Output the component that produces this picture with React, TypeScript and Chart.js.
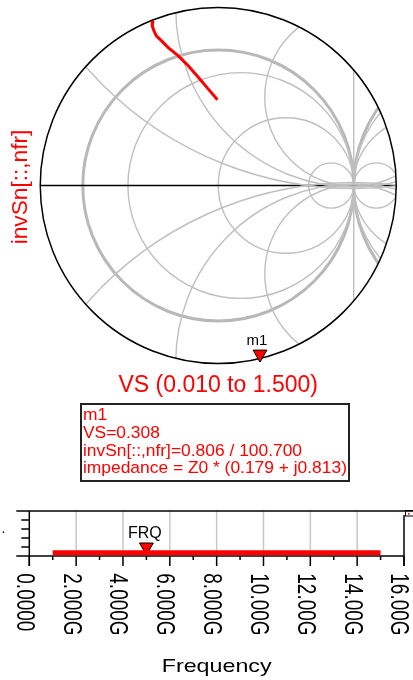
import React, { useEffect, useRef } from 'react';
import { Chart, registerables } from 'chart.js';

Chart.register(...registerables);

const FONT = '"Liberation Sans", Arial, Helvetica, sans-serif';

// ---------- Smith chart data (reflection coefficient, re / im) ----------
const traceRe = [-0.482, -0.487, -0.474, -0.457, -0.42, -0.371, -0.297, -0.223, -0.149, -0.076, -0.006];
const traceIm = [1.225, 1.188, 1.151, 1.114, 1.078, 1.028, 0.967, 0.893, 0.807, 0.721, 0.638];
const markerRe = [0.308];
const markerIm = [-1.255];
const smithRadius = 1.3137; // displayed |Gamma| range
const resistanceValues = [0, 0.2, 1, 5];
const reactanceValues = [0.5, 1, 2];
const smithXTitle = 'VS (0.010 to 1.500)';
const smithYTitle = 'invSn[::,nfr]';
const markerName = 'm1';
const readoutLines = ['m1', 'VS=0.308', 'invSn[::,nfr]=0.806 / 100.700', 'impedance = Z0 * (0.179 + j0.813)'];

// ---------- Frequency strip ----------
const sweepFreqGHz = [1, 15];
const sweepLevel = [0.07, 0.07];
const frqMarkerGHz = [5];
const frqMarkerLevel = [0.2];
const frqMarkerName = 'FRQ';
const freqTickValues = [0, 2, 4, 6, 8, 10, 12, 14, 16];
const freqTickLabels = ['0.0000', '2.000G', '4.000G', '6.000G', '8.000G', '10.00G', '12.00G', '14.00G', '16.00G'];
const freqMinorValues = [1, 3, 5, 7, 9, 11, 13, 15];
const levelTickValues = [0, 0.2, 0.4, 0.6, 0.8, 1];
const freqTitle = 'Frequency';

function drawText(ctx: CanvasRenderingContext2D, text: string, x: number, y: number, size: number, color: string, o: any = {}) {
  ctx.save();
  ctx.translate(x, y);
  if (o.rotate) ctx.rotate(o.rotate);
  ctx.scale(o.sx ?? 1, o.sy ?? 1);
  ctx.font = `${size}px ${FONT}`;
  ctx.fillStyle = color;
  ctx.textAlign = o.align ?? 'left';
  ctx.textBaseline = 'alphabetic';
  ctx.fillText(text, 0, 0);
  ctx.restore();
}

const GRAY = '#bfbfbf';

const smithPlugin = {
  id: 'smithGrid',
  beforeDatasetsDraw(chart: any) {
    const { ctx } = chart;
    const xs = chart.scales.x, ys = chart.scales.y;
    const px = (v: number) => xs.getPixelForValue(v);
    const py = (v: number) => ys.getPixelForValue(v);
    const u = px(1) - px(0);
    const cx = px(0), cy = py(0), R = smithRadius * u;
    const circle = (gx: number, gy: number, rad: number, color: string, w: number) => {
      ctx.beginPath();
      ctx.arc(px(gx), py(gy), rad * u, 0, Math.PI * 2);
      ctx.strokeStyle = color;
      ctx.lineWidth = w;
      ctx.stroke();
    };
    ctx.save();
    ctx.beginPath();
    ctx.arc(cx, cy, R, 0, Math.PI * 2);
    ctx.clip();
    resistanceValues.forEach((r) => {
      const w = r === 0 ? 3 : 1.4;
      const col = r === 0 ? '#b8b8b8' : GRAY;
      circle(r / (1 + r), 0, 1 / (1 + r), col, w);
      circle((r + 2) / (r + 1), 0, 1 / (1 + r), col, w);
    });
    ctx.beginPath();
    ctx.moveTo(px(1), py(smithRadius));
    ctx.lineTo(px(1), py(-smithRadius));
    ctx.strokeStyle = GRAY;
    ctx.lineWidth = 1.4;
    ctx.stroke();
    // real axis
    ctx.beginPath();
    ctx.moveTo(px(-smithRadius), cy);
    ctx.lineTo(px(smithRadius), cy);
    ctx.strokeStyle = '#000';
    ctx.lineWidth = 1.5;
    ctx.stroke();
    reactanceValues.forEach((xv) => {
      const k = smithRadius / xv;
      circle(1, k, k, GRAY, 1.4);
      circle(1, -k, k, GRAY, 1.4);
    });
    ctx.restore();
    ctx.beginPath();
    ctx.arc(cx, cy, R, 0, Math.PI * 2);
    ctx.strokeStyle = '#000';
    ctx.lineWidth = 1.5;
    ctx.stroke();
  },
  afterDraw(chart: any) {
    const { ctx } = chart;
    const xs = chart.scales.x, ys = chart.scales.y;
    const mx = xs.getPixelForValue(markerRe[0]);
    const my = ys.getPixelForValue(markerIm[0]);
    drawText(ctx, markerName, mx - 3, my - 9, 15, '#000', { align: 'center' });
    const ca = chart.chartArea;
    drawText(ctx, smithXTitle, (ca.left + ca.right) / 2, ca.bottom + 29.5, 23, '#ff0000', { align: 'center' });
    drawText(ctx, smithYTitle, 26.5, (ca.top + ca.bottom) / 2 + 1.5, 22.7, '#ff0000', { align: 'center', rotate: -Math.PI / 2 });
    // marker readout box
    ctx.save();
    ctx.strokeStyle = '#222';
    ctx.lineWidth = 2;
    ctx.strokeRect(81, 404, 268, 77);
    ctx.restore();
    readoutLines.forEach((t, i) => drawText(ctx, t, 83, 420 + i * 17.8, 17.4, '#ff0000'));
  },
};

const freqPlugin = {
  id: 'freqFrame',
  beforeDatasetsDraw(chart: any) {
    const { ctx } = chart;
    const xs = chart.scales.x, ys = chart.scales.y;
    const top = ys.getPixelForValue(1), bottom = ys.getPixelForValue(0);
    const left = xs.getPixelForValue(freqTickValues[0]);
    const right = xs.getPixelForValue(freqTickValues[freqTickValues.length - 1]);
    const line = (x1: number, y1: number, x2: number, y2: number, color: string, w: number) => {
      ctx.beginPath();
      ctx.moveTo(x1, y1);
      ctx.lineTo(x2, y2);
      ctx.strokeStyle = color;
      ctx.lineWidth = w;
      ctx.stroke();
    };
    ctx.save();
    freqTickValues.slice(1, -1).forEach((v) => {
      const x = xs.getPixelForValue(v);
      line(x, top, x, bottom, '#c8c8c8', 1.5);
    });
    line(left - 13, top, chart.width, top, '#000', 1.5);
    line(left - 13, bottom, right, bottom, '#000', 1.5);
    line(left, top, left, bottom + 10, '#000', 1.5);
    line(right, top + 4, right, bottom + 10, '#000', 1.5);
    freqTickValues.forEach((v) => {
      const x = xs.getPixelForValue(v);
      line(x, bottom, x, bottom + 10, '#000', 1.5);
    });
    freqMinorValues.forEach((v) => {
      const x = xs.getPixelForValue(v);
      line(x, bottom, x, bottom + 4, '#000', 1.5);
    });
    levelTickValues.slice(1, -1).forEach((v) => {
      const y = ys.getPixelForValue(v);
      line(left - 8, y, left, y, '#000', 1.5);
    });
    // small corner box
    ctx.strokeStyle = '#000';
    ctx.lineWidth = 1;
    ctx.strokeRect(405.5, 20.5, 8, 5.5);
    ctx.fillStyle = '#ff0000';
    ctx.fillRect(408, 23, 1.6, 1.6);
    ctx.restore();
  },
  afterDraw(chart: any) {
    const { ctx } = chart;
    const xs = chart.scales.x, ys = chart.scales.y;
    const bottom = ys.getPixelForValue(0);
    freqTickValues.forEach((v, i) => {
      const x = xs.getPixelForValue(v);
      drawText(ctx, freqTickLabels[i], x - 12.6, bottom + 17.3, 19, '#000', { rotate: Math.PI / 2, sy: 1.35 });
    });
    const mx = xs.getPixelForValue(frqMarkerGHz[0]);
    const my = ys.getPixelForValue(frqMarkerLevel[0]);
    drawText(ctx, frqMarkerName, mx - 1.5, my - 9, 16, '#000', { align: 'center' });
    const ca = chart.chartArea;
    drawText(ctx, freqTitle, (ca.left + ca.right) / 2, 181.7, 19, '#000', { align: 'center', sx: 1.225 });
    drawText(ctx, '.', 1.5, 43, 14, '#000');
  },
};

export default function App() {
  const smithRef = useRef<HTMLCanvasElement>(null);
  const freqRef = useRef<HTMLCanvasElement>(null);

  useEffect(() => {
    const tracePts = traceRe.map((re, i) => ({ x: re, y: traceIm[i] }));
    const markerPts = markerRe.map((re, i) => ({ x: re, y: markerIm[i] }));
    const smith = new Chart(smithRef.current as HTMLCanvasElement, {
      type: 'scatter',
      data: {
        datasets: [
          {
            data: tracePts,
            showLine: true,
            borderColor: '#ff0000',
            borderWidth: 3,
            pointRadius: 0,
            tension: 0,
          },
          {
            data: markerPts,
            pointStyle: 'triangle',
            pointRotation: 180,
            pointRadius: 8,
            pointBackgroundColor: '#ff0000',
            pointBorderColor: '#000',
            pointBorderWidth: 1,
          },
        ],
      } as any,
      options: {
        animation: false,
        responsive: false,
        maintainAspectRatio: false,
        layout: { padding: { left: 40.25, right: 16.75, top: 6, bottom: 128 } },
        scales: {
          x: { type: 'linear', display: false, min: -smithRadius, max: smithRadius },
          y: { type: 'linear', display: false, min: -smithRadius, max: smithRadius },
        },
        plugins: { legend: { display: false }, tooltip: { enabled: false } },
        events: [],
      } as any,
      plugins: [smithPlugin],
    });

    const sweepPts = sweepFreqGHz.map((f, i) => ({ x: f, y: sweepLevel[i] }));
    const frqPts = frqMarkerGHz.map((f, i) => ({ x: f, y: frqMarkerLevel[i] }));
    const freq = new Chart(freqRef.current as HTMLCanvasElement, {
      type: 'scatter',
      data: {
        datasets: [
          {
            data: sweepPts,
            showLine: true,
            borderColor: '#ff0000',
            borderWidth: 5,
            borderCapStyle: 'butt',
            pointRadius: 0,
          },
          {
            data: frqPts,
            pointStyle: 'triangle',
            pointRotation: 180,
            pointRadius: 8,
            pointBackgroundColor: '#ff0000',
            pointBorderColor: '#000',
            pointBorderWidth: 1,
          },
        ],
      } as any,
      options: {
        animation: false,
        responsive: false,
        maintainAspectRatio: false,
        layout: { padding: { left: 29.3, right: 5.7, top: 21, bottom: 124 } },
        scales: {
          x: { type: 'linear', display: false, min: 0, max: 16 },
          y: { type: 'linear', display: false, min: 0, max: 1 },
        },
        plugins: { legend: { display: false }, tooltip: { enabled: false } },
        events: [],
      } as any,
      plugins: [freqPlugin],
    });

    return () => {
      smith.destroy();
      freq.destroy();
    };
  }, []);

  return (
    <div style={{ position: 'absolute', left: 0, top: 0, width: 413, height: 680, background: '#fff' }}>
      <canvas ref={smithRef} width={413} height={490} style={{ position: 'absolute', left: 0, top: 0 }} />
      <canvas ref={freqRef} width={413} height={190} style={{ position: 'absolute', left: 0, top: 490 }} />
    </div>
  );
}
